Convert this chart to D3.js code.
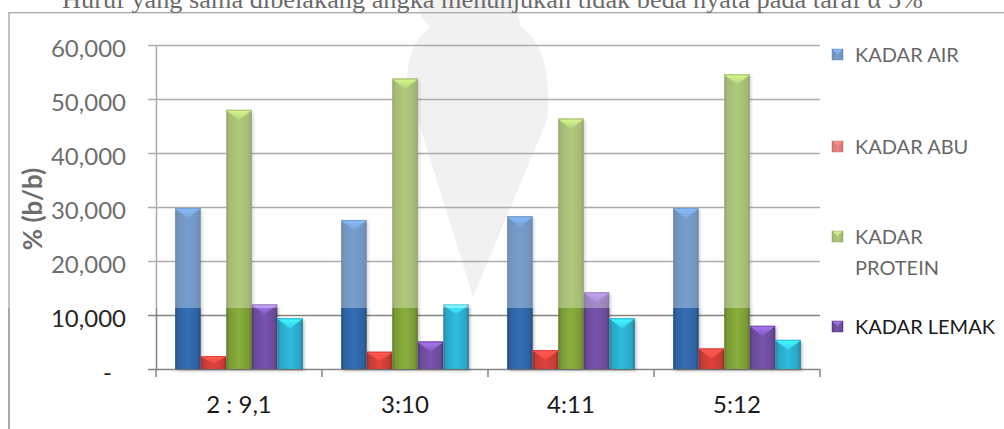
<!DOCTYPE html>
<html>
<head>
<meta charset="utf-8">
<script src="https://cdn.jsdelivr.net/npm/d3@7"></script>
<style>
  html, body { margin: 0; padding: 0; background: #fff; overflow: hidden; }
  svg { display: block; }
</style>
</head>
<body>
<svg id="chart" width="1004" height="429"></svg>
<script>
// ---- data ----
const caption = "Huruf yang sama dibelakang angka menunjukan tidak beda nyata pada taraf α 5%";
const categories = ["2 : 9,1", "3:10", "4:11", "5:12"];
const seriesNames = ["KADAR AIR", "KADAR ABU", "KADAR PROTEIN", "KADAR LEMAK", "KADAR KARBOHIDRAT"];
const kadarAir = [29.8, 27.6, 28.3, 29.8];
const kadarAbu = [2.4, 3.2, 3.5, 3.8];
const kadarProtein = [48.0, 53.8, 46.4, 54.6];
const kadarLemak = [12.0, 5.1, 14.2, 8.0];
const kadarKarbohidrat = [9.4, 12.0, 9.4, 5.4];
const yTickValues = [0, 10, 20, 30, 40, 50, 60];
const yTickLabels = ["-", "10,000", "20,000", "30,000", "40,000", "50,000", "60,000"];
const legendLabels = [["KADAR AIR"], ["KADAR ABU"], ["KADAR", "PROTEIN"], ["KADAR LEMAK"]];

const seriesValues = [kadarAir, kadarAbu, kadarProtein, kadarLemak, kadarKarbohidrat];
const seriesColors = ["#2f63a3", "#c93b36", "#7b9d35", "#6c4b9c", "#2aa9c9"];

const svg = d3.select("#chart");
const W = 1004, H = 429;
const FONT = "Lato, 'Open Sans', sans-serif";

const plot = { left: 156, right: 820, top: 45, bottom: 369 };

const x = d3.scaleBand().domain(categories).range([plot.left, plot.right]).paddingInner(0).paddingOuter(0);
const xs = d3.scaleBand().domain(seriesNames).range([0, x.bandwidth()]).paddingInner(0).paddingOuter(0.75);
const y = d3.scaleLinear().domain([0, 60]).range([plot.bottom, plot.top]);

const defs = svg.append("defs");
const shade = c => d3.color(c);

// gradients for the bevelled bar bodies
seriesColors.forEach((c, i) => {
  const g = defs.append("linearGradient").attr("id", "bar" + i).attr("x1", 0).attr("x2", 1).attr("y1", 0).attr("y2", 0);
  g.append("stop").attr("offset", "0%").attr("stop-color", shade(c).darker(0.7));
  g.append("stop").attr("offset", "12%").attr("stop-color", shade(c).darker(0.05));
  g.append("stop").attr("offset", "50%").attr("stop-color", shade(c).brighter(0.3));
  g.append("stop").attr("offset", "88%").attr("stop-color", shade(c).darker(0.05));
  g.append("stop").attr("offset", "100%").attr("stop-color", shade(c).darker(0.8));
  const t = defs.append("linearGradient").attr("id", "top" + i).attr("x1", 0).attr("x2", 0).attr("y1", 0).attr("y2", 1);
  t.append("stop").attr("offset", "0%").attr("stop-color", shade(c).brighter(1.3));
  t.append("stop").attr("offset", "100%").attr("stop-color", shade(c).brighter(0.6));
});
const blur = defs.append("filter").attr("id", "soft").attr("x", "-50%").attr("y", "-50%").attr("width", "200%").attr("height", "200%");
blur.append("feGaussianBlur").attr("stdDeviation", 1.6);

// background
svg.append("rect").attr("width", W).attr("height", H).attr("fill", "#fff");

// faint emblem behind the chart
const emblem = svg.append("g").attr("fill", "#ebebeb");
emblem.append("path").attr("d",
  "M417,-5 L515,-5 C517,12 519,20 521,27 C543,42 552,75 547,120 L473,297 L418,120 C400,90 404,48 430,27 C421,18 417,8 417,-5 Z");

// outer frame
svg.append("rect").attr("x", 9).attr("y", 12.7).attr("width", W).attr("height", H)
  .attr("fill", "none").attr("stroke", "#8a8a8a").attr("stroke-width", 1.5);

// caption line above the frame
svg.append("text").attr("x", 62).attr("y", 8)
  .attr("font-family", "'Liberation Serif', 'Times New Roman', serif").attr("font-size", 26)
  .attr("fill", "#222").attr("textLength", 861).attr("lengthAdjust", "spacingAndGlyphs")
  .text(caption);

// y axis with gridlines
const yAxis = d3.axisLeft(y).tickValues(yTickValues).tickSizeInner(-(plot.right - plot.left)).tickSizeOuter(0)
  .tickFormat((d, i) => yTickLabels[i]);
const gy = svg.append("g").attr("transform", `translate(${plot.left},0)`).call(yAxis);
gy.select(".domain").attr("stroke", "#858585").attr("stroke-width", 1.5);
gy.selectAll(".tick line").attr("x1", -8).attr("stroke", "#858585").attr("stroke-width", 1.5);
gy.selectAll(".tick text").attr("x", (d, i) => i === 0 ? -44 : -30).attr("dy", "0.32em")
  .attr("transform", "translate(0,4)")
  .attr("font-family", FONT).attr("font-size", 24).attr("fill", "#262626");

// x axis: category boundary ticks and labels
const gx = svg.append("g").attr("transform", `translate(0,${plot.bottom})`);
gx.selectAll("line.cat").data(categories.concat(["end"])).join("line")
  .attr("class", "cat")
  .attr("x1", d => d === "end" ? x.range()[1] : x(d)).attr("x2", d => d === "end" ? x.range()[1] : x(d))
  .attr("y1", 0).attr("y2", 8).attr("stroke", "#858585").attr("stroke-width", 1.5);
gx.selectAll("text.cat").data(categories).join("text")
  .attr("class", "cat")
  .attr("x", d => x(d) + x.bandwidth() / 2).attr("y", 44)
  .attr("text-anchor", "middle")
  .attr("font-family", FONT).attr("font-size", 24).attr("fill", "#1a1a1a")
  .text(d => d);

// bars
const bars = [];
seriesValues.forEach((vals, si) => vals.forEach((v, ci) => bars.push({ si, ci, v })));
const gb = svg.append("g");
const bx = d => x(categories[d.ci]) + xs(seriesNames[d.si]);
const bw = xs.bandwidth();

gb.selectAll("rect.shadow").data(bars).join("rect").attr("class", "shadow")
  .attr("x", d => bx(d) + 1.5).attr("y", d => y(d.v) + 2)
  .attr("width", bw).attr("height", d => y(0) - y(d.v))
  .attr("fill", "#000").attr("opacity", 0.25).attr("filter", "url(#soft)");

gb.selectAll("rect.body").data(bars).join("rect").attr("class", "body")
  .attr("x", d => bx(d)).attr("y", d => y(d.v))
  .attr("width", bw).attr("height", d => y(0) - y(d.v))
  .attr("fill", d => `url(#bar${d.si})`);

// bevelled top facet (chevron)
gb.selectAll("path.bevel").data(bars).join("path").attr("class", "bevel")
  .attr("d", d => {
    const x0 = bx(d) + 0.5, x1 = bx(d) + bw - 0.5, t = y(d.v) + 1, h = Math.min(9, (y(0) - y(d.v)) / 2);
    return `M${x0},${t} L${x1},${t} L${(x0 + x1) / 2},${t + h} Z`;
  })
  .attr("fill", d => `url(#top${d.si})`).attr("opacity", 0.9);
gb.selectAll("line.rim").data(bars).join("line").attr("class", "rim")
  .attr("x1", d => bx(d)).attr("x2", d => bx(d) + bw)
  .attr("y1", d => y(d.v) + 0.5).attr("y2", d => y(d.v) + 0.5)
  .attr("stroke", d => shade(seriesColors[d.si]).brighter(0.4)).attr("stroke-width", 1);

// y-axis title
svg.append("text").attr("transform", "translate(42,209) rotate(-90)")
  .attr("text-anchor", "middle")
  .attr("font-family", FONT).attr("font-weight", "bold").attr("font-size", 26).attr("fill", "#262626")
  .text("% (b/b)");

// legend
const legendY = [55, 147, 237, 327];
const gl = svg.append("g");
legendLabels.forEach((lines, i) => {
  const cy = legendY[i];
  gl.append("rect").attr("x", 832).attr("y", cy - 6).attr("width", 11).attr("height", 11)
    .attr("fill", `url(#bar${i})`).attr("stroke", shade(seriesColors[i]).darker(0.5)).attr("stroke-width", 0.5);
  gl.append("path").attr("d", `M833,${cy - 5.5} L842,${cy - 5.5} L837.5,${cy - 0.5} Z`)
    .attr("fill", `url(#top${i})`);
  lines.forEach((ln, j) => {
    gl.append("text").attr("x", 855).attr("y", cy + j * 31).attr("dy", "0.36em")
      .attr("font-family", FONT).attr("font-size", 20).attr("fill", "#1a1a1a").text(ln);
  });
});

// washed-out band over the upper part of the page
svg.append("rect").attr("x", 0).attr("y", 0).attr("width", W).attr("height", 308)
  .attr("fill", "#fff").attr("opacity", 0.33);
</script>
</body>
</html>
